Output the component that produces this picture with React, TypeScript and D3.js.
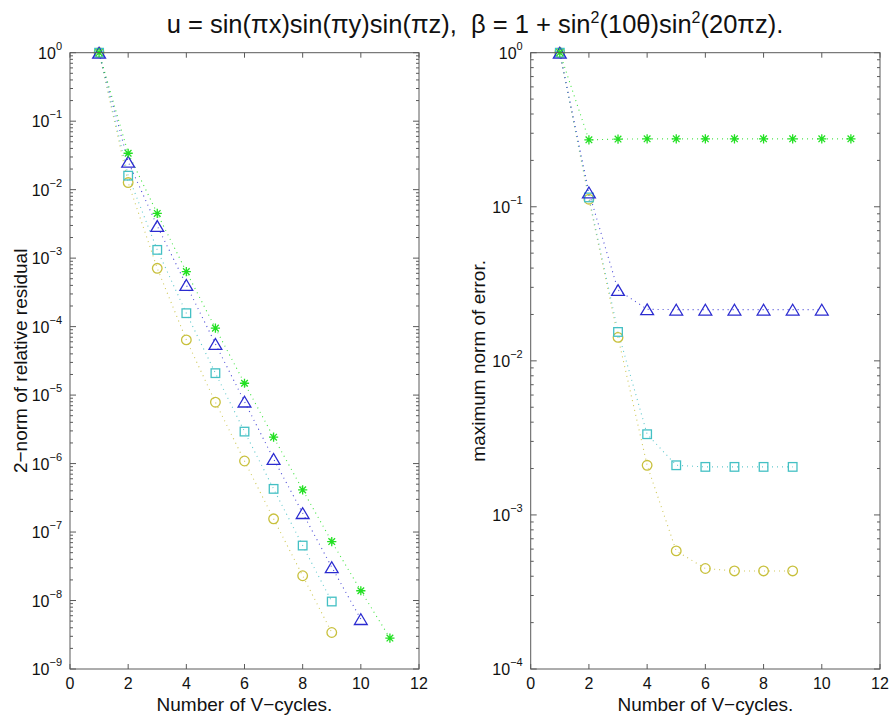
import React from 'react';
import * as d3 from 'd3';

// ---------- data ----------
const cycles = [1, 2, 3, 4, 5, 6, 7, 8, 9, 10, 11];

// left panel: 2-norm of relative residual
const resStar = [1, 0.034, 4.5e-3, 6.35e-4, 9.5e-5, 1.49e-5, 2.43e-6, 4.13e-7, 7.26e-8, 1.39e-8, 2.83e-9];
const resTri = [1, 0.0256, 2.95e-3, 4.06e-4, 5.59e-5, 8.03e-6, 1.17e-6, 1.89e-7, 3.07e-8, 5.35e-9];
const resSq = [1, 0.016, 1.32e-3, 1.57e-4, 2.09e-5, 2.93e-6, 4.27e-7, 6.35e-8, 9.67e-9];
const resCirc = [1, 0.0127, 7.1e-4, 6.4e-5, 7.87e-6, 1.09e-6, 1.56e-7, 2.3e-8, 3.41e-9];

// right panel: maximum norm of error
const errStar = [1, 0.272, 0.275, 0.276, 0.276, 0.276, 0.276, 0.276, 0.276, 0.276, 0.276];
const errTri = [1, 0.124, 0.0288, 0.0216, 0.0215, 0.0215, 0.0215, 0.0215, 0.0215, 0.0215];
const errSq = [1, 0.115, 0.0154, 3.34e-3, 2.1e-3, 2.05e-3, 2.05e-3, 2.05e-3, 2.05e-3];
const errCirc = [1, 0.112, 0.0142, 2.1e-3, 5.84e-4, 4.49e-4, 4.33e-4, 4.33e-4, 4.33e-4];

const xTicks = [0, 2, 4, 6, 8, 10, 12];
const leftExps = [0, -1, -2, -3, -4, -5, -6, -7, -8, -9];
const rightExps = [0, -1, -2, -3, -4];

const title = 'u = sin(πx)sin(πy)sin(πz),\u00a0\u00a0β = 1 + sin';
const xLabel = 'Number of V−cycles.';
const leftYLabel = '2−norm of relative residual';
const rightYLabel = 'maximum norm of error.';

// ---------- styles ----------
const FONT = '"Liberation Sans", Arial, Helvetica, sans-serif';
const AXIS = '#5a5a5a';
const C_STAR = '#22e022';
const C_TRI = '#2b2bd0';
const C_SQ = '#44c0c4';
const C_CIRC = '#c8c03c';

type Kind = 'star' | 'tri' | 'sq' | 'circ';

function Marker({ kind, x, y, color }: { kind: Kind; x: number; y: number; color: string }) {
  if (kind === 'circ') return <circle cx={x} cy={y} r={4.8} fill="none" stroke={color} strokeWidth={1.3} />;
  if (kind === 'sq') return <rect x={x - 4.3} y={y - 4.3} width={8.6} height={8.6} fill="none" stroke={color} strokeWidth={1.3} />;
  if (kind === 'tri') {
    const w = 6.4, h = 5.4;
    return <path d={`M${x},${y - h}L${x + w},${y + h}L${x - w},${y + h}Z`} fill="none" stroke={color} strokeWidth={1.3} />;
  }
  const r = 4.6, d = r * 0.72;
  return (
    <path
      d={`M${x - r},${y}L${x + r},${y}M${x},${y - r}L${x},${y + r}M${x - d},${y - d}L${x + d},${y + d}M${x - d},${y + d}L${x + d},${y - d}`}
      stroke={color}
      strokeWidth={1.3}
    />
  );
}

type Series = { values: number[]; kind: Kind; color: string };

function Panel({
  x0, x1, y0, y1, exps, series, yLabel, yLabelX,
}: {
  x0: number; x1: number; y0: number; y1: number; exps: number[]; series: Series[]; yLabel: string; yLabelX: number;
}) {
  const minExp = d3.min(exps)!;
  const xs = d3.scaleLinear().domain([0, 12]).range([x0, x1]);
  const ys = d3.scaleLog().domain([Math.pow(10, minExp), 1]).range([y1, y0]);
  const minor = ys.ticks().filter((t) => {
    const e = Math.log10(t);
    return Math.abs(e - Math.round(e)) > 1e-6;
  });
  const line = d3.line<number>().x((_, i) => xs(cycles[i])).y((v) => ys(v));
  const mid = (y0 + y1) / 2;
  return (
    <g>
      {series.map((s, k) => (
        <path key={'l' + k} d={line(s.values) || ''} fill="none" stroke={s.color} strokeWidth={1.1} strokeDasharray="1 4" strokeOpacity={0.85} />
      ))}
      {series.map((s, k) => (
        <g key={'m' + k}>
          {s.values.map((v, i) => (
            <Marker key={i} kind={s.kind} x={xs(cycles[i])} y={ys(v)} color={s.color} />
          ))}
        </g>
      ))}
      <rect x={x0} y={y0} width={x1 - x0} height={y1 - y0} fill="none" stroke={AXIS} strokeWidth={1} />
      {xTicks.map((t) => (
        <g key={'x' + t}>
          <line x1={xs(t)} x2={xs(t)} y1={y1} y2={y1 - 5} stroke={AXIS} />
          <line x1={xs(t)} x2={xs(t)} y1={y0} y2={y0 + 5} stroke={AXIS} />
          <text x={xs(t)} y={y1 + 20} textAnchor="middle" fontSize={16} fontFamily={FONT} fill="#111">{t}</text>
        </g>
      ))}
      {exps.map((e) => {
        const y = ys(Math.pow(10, e));
        return (
          <g key={'y' + e}>
            <line x1={x0} x2={x0 + 6} y1={y} y2={y} stroke={AXIS} />
            <line x1={x1} x2={x1 - 6} y1={y} y2={y} stroke={AXIS} />
            <text x={x0 - 8} y={y + 6} textAnchor="end" fontSize={16} fontFamily={FONT} fill="#111">
              <tspan>10</tspan>
              <tspan dy={-9} fontSize={11}>{e === 0 ? '0' : '−' + Math.abs(e)}</tspan>
            </text>
          </g>
        );
      })}
      {minor.map((t, i) => {
        const y = ys(t);
        return (
          <g key={'n' + i}>
            <line x1={x0} x2={x0 + 3} y1={y} y2={y} stroke={AXIS} />
            <line x1={x1} x2={x1 - 3} y1={y} y2={y} stroke={AXIS} />
          </g>
        );
      })}
      <text x={(x0 + x1) / 2} y={y1 + 42} textAnchor="middle" fontSize={19} fontFamily={FONT} fill="#111">{xLabel}</text>
      <text transform={`translate(${yLabelX},${mid}) rotate(-90)`} textAnchor="middle" fontSize={19} fontFamily={FONT} fill="#111">{yLabel}</text>
    </g>
  );
}

export default function App() {
  const leftSeries: Series[] = [
    { values: resCirc, kind: 'circ', color: C_CIRC },
    { values: resSq, kind: 'sq', color: C_SQ },
    { values: resTri, kind: 'tri', color: C_TRI },
    { values: resStar, kind: 'star', color: C_STAR },
  ];
  const rightSeries: Series[] = [
    { values: errCirc, kind: 'circ', color: C_CIRC },
    { values: errSq, kind: 'sq', color: C_SQ },
    { values: errTri, kind: 'tri', color: C_TRI },
    { values: errStar, kind: 'star', color: C_STAR },
  ];
  return (
    <svg width={890} height={716} style={{ position: 'absolute', left: 0, top: 0, background: '#fff' }}>
      <rect width={890} height={716} fill="#fff" />
      <text x={475} y={33} textAnchor="middle" fontSize={25.5} fontFamily={FONT} fill="#111">
        <tspan>{title}</tspan>
        <tspan dy={-10} fontSize={16}>2</tspan>
        <tspan dy={10}>(10θ)sin</tspan>
        <tspan dy={-10} fontSize={16}>2</tspan>
        <tspan dy={10}>(20πz).</tspan>
      </text>
      <Panel x0={70} x1={419} y0={52.7} y1={669} exps={leftExps} series={leftSeries} yLabel={leftYLabel} yLabelX={27} />
      <Panel x0={530.7} x1={880} y0={52.7} y1={669} exps={rightExps} series={rightSeries} yLabel={rightYLabel} yLabelX={485} />
    </svg>
  );
}
